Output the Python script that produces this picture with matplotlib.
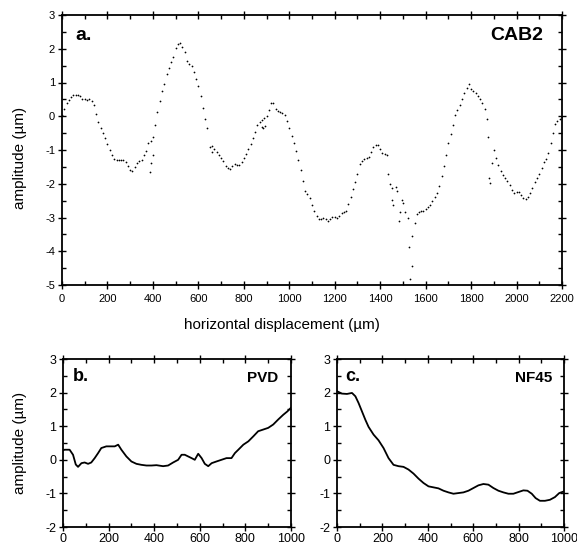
import numpy as np
import matplotlib
matplotlib.use("Agg")
import matplotlib.pyplot as plt
from matplotlib.ticker import MultipleLocator

plt.rcParams["font.family"] = ["Liberation Sans", "DejaVu Sans"]
plt.rcParams["axes.unicode_minus"] = False

# ---- CAB2 profile (sampled every 10 um, in four runs) ----
cab2_x1 = np.arange(0, 641, 10)
cab2_y1 = [0.05, 0.22, 0.39, 0.48, 0.57, 0.62, 0.63, 0.62, 0.61, 0.52,
           0.50, 0.49, 0.50, 0.44, 0.33, 0.06, -0.18, -0.36, -0.50, -0.64,
           -0.82, -1.00, -1.15, -1.28, -1.30, -1.29, -1.30, -1.30, -1.37, -1.48,
           -1.60, -1.62, -1.50, -1.38, -1.32, -1.30, -1.15, -1.02, -0.80, -0.72,
           -0.60, -0.25, 0.12, 0.45, 0.75, 0.97, 1.24, 1.44, 1.60, 1.76,
           2.02, 2.15, 2.17, 2.06, 1.90, 1.65, 1.55, 1.50, 1.32, 1.10,
           0.90, 0.60, 0.24, -0.08, -0.35]
cab2_x2 = np.arange(650, 1431, 10)
cab2_y2 = [-0.92, -0.88, -0.96, -1.06, -1.15, -1.24, -1.33, -1.47, -1.53, -1.55,
           -1.46, -1.40, -1.43, -1.45, -1.36, -1.24, -1.12, -0.98, -0.82, -0.63,
           -0.46, -0.25, -0.18, -0.12, -0.05, 0.02, 0.20, 0.38, 0.40, 0.22,
           0.15, 0.12, 0.10, 0.04, -0.14, -0.35, -0.58, -0.80, -1.02, -1.30,
           -1.58, -1.92, -2.20, -2.30, -2.42, -2.62, -2.82, -2.95, -3.05, -3.05,
           -3.00, -3.04, -3.09, -3.04, -2.98, -2.99, -3.02, -2.97, -2.88, -2.85,
           -2.80, -2.60, -2.40, -2.17, -1.95, -1.72, -1.42, -1.32, -1.26, -1.25,
           -1.22, -1.06, -0.92, -0.84, -0.85, -0.96, -1.08, -1.12, -1.15]
cab2_x3 = np.arange(1560, 1871, 10)
cab2_y3 = [-2.90, -2.84, -2.82, -2.80, -2.76, -2.70, -2.62, -2.50, -2.39, -2.27,
           -2.08, -1.78, -1.46, -1.14, -0.80, -0.54, -0.26, 0.04, 0.20, 0.34,
           0.50, 0.68, 0.84, 0.95, 0.80, 0.76, 0.70, 0.60, 0.50, 0.40,
           0.22, -0.08]
cab2_x4 = np.arange(1900, 2201, 10)
cab2_y4 = [-1.00, -1.25, -1.45, -1.62, -1.74, -1.82, -1.92, -2.03, -2.18, -2.28,
           -2.25, -2.24, -2.32, -2.42, -2.45, -2.40, -2.28, -2.12, -1.95, -1.84,
           -1.72, -1.52, -1.35, -1.26, -1.08, -0.78, -0.50, -0.24, -0.14, -0.08,
           -0.02]
# stray CAB2 readings
cab2_sx = [387, 392, 399, 659, 878, 886, 891, 1433, 1443, 1450, 1453, 1458,
           1468, 1473, 1483, 1487, 1495, 1502, 1509, 1524, 1527, 1533, 1539,
           1541, 1553, 1876, 1880, 1883, 1891]
cab2_sy = [-1.64, -1.39, -1.15, -1.05, -0.32, -0.36, -0.28, -1.71, -2.01, -2.14,
           -2.48, -2.63, -2.09, -2.20, -3.09, -2.83, -2.48, -2.58, -2.83, -3.00,
           -3.88, -4.83, -4.44, -3.55, -3.17, -0.62, -1.84, -1.99, -1.39]

# ---- PVD profile ----
pvd_x = [0, 7, 29, 44, 56, 66, 81, 95, 110, 124, 139, 154, 168, 190, 212, 227,
         242, 256, 278, 300, 322, 344, 366, 388, 410, 439, 461, 483, 505, 520,
         534, 549, 564, 578, 593, 608, 622, 637, 652, 673, 695, 717, 739, 754,
         769, 791, 813, 835, 856, 878, 900, 922, 944, 966, 984, 1000]
pvd_y = [0.28, 0.30, 0.30, 0.15, -0.14, -0.21, -0.10, -0.08, -0.12, -0.08,
         0.05, 0.20, 0.35, 0.40, 0.40, 0.40, 0.45, 0.30, 0.10, -0.05,
         -0.12, -0.15, -0.17, -0.17, -0.16, -0.19, -0.17, -0.08, 0.00, 0.15,
         0.15, 0.10, 0.05, 0.00, 0.18, 0.05, -0.12, -0.19, -0.10, -0.05,
         0.00, 0.05, 0.05, 0.20, 0.30, 0.45, 0.55, 0.70, 0.85, 0.90,
         0.95, 1.05, 1.20, 1.34, 1.44, 1.55]

# ---- NF45 profile ----
nf45_x = [0, 22, 44, 66, 81, 95, 110, 125, 139, 161, 183, 205, 227, 249, 271,
          293, 315, 337, 359, 381, 403, 425, 447, 469, 491, 513, 535, 557, 579,
          601, 623, 645, 667, 689, 711, 733, 755, 777, 799, 821, 839, 858, 875,
          894, 916, 938, 960, 979, 1000]
nf45_y = [2.04, 1.97, 1.96, 1.99, 1.89, 1.69, 1.44, 1.19, 0.98, 0.75,
          0.58, 0.35, 0.05, -0.15, -0.19, -0.21, -0.29, -0.41, -0.56, -0.69,
          -0.79, -0.82, -0.85, -0.92, -0.97, -1.01, -0.99, -0.97, -0.92, -0.84,
          -0.76, -0.72, -0.74, -0.84, -0.92, -0.97, -1.01, -1.01, -0.96, -0.91,
          -0.92, -1.01, -1.14, -1.22, -1.22, -1.19, -1.11, -0.99, -0.94]

W, H = 577, 548
fig = plt.figure(figsize=(W / 100, H / 100), dpi=100)


def frame(ax, xmax, ymin, ymax, labelsize, xpad):
    ax.set_xlim(0, xmax)
    ax.set_ylim(ymin, ymax)
    ax.xaxis.set_major_locator(MultipleLocator(200))
    ax.xaxis.set_minor_locator(MultipleLocator(100))
    ax.yaxis.set_major_locator(MultipleLocator(1))
    ax.yaxis.set_minor_locator(MultipleLocator(0.5))
    ax.tick_params(which="both", top=True, right=True, width=1.0, color="black")
    ax.tick_params(which="major", direction="inout", length=6, labelsize=labelsize)
    ax.tick_params(which="minor", direction="in", length=3)
    ax.tick_params(axis="y", which="major", pad=2)
    ax.tick_params(axis="x", which="major", pad=xpad)
    for s in ax.spines.values():
        s.set_linewidth(1.3)


ax_a = fig.add_axes([62 / W, 1 - 285 / H, 500 / W, 270 / H])
ax_b = fig.add_axes([63 / W, 1 - 527 / H, 228 / W, 168 / H])
ax_c = fig.add_axes([337 / W, 1 - 527 / H, 227 / W, 168 / H])

frame(ax_a, 2200, -5, 3, 8, 3.5)
frame(ax_b, 1000, -2, 3, 9, 1.5)
frame(ax_c, 1000, -2, 3, 9, 1.5)

dot = dict(s=1.6, c="black", marker="o", linewidths=0)
for xs, ys in [(cab2_x1, cab2_y1), (cab2_x2, cab2_y2),
               (cab2_x3, cab2_y3), (cab2_x4, cab2_y4), (cab2_sx, cab2_sy)]:
    ax_a.scatter(xs, ys, **dot)

ax_b.plot(pvd_x, pvd_y, color="black", lw=1.3)
ax_c.plot(nf45_x, nf45_y, color="black", lw=1.3)

bold = dict(fontweight="bold", va="top")
ax_a.text(0.026, 0.955, "a.", transform=ax_a.transAxes, fontsize=14, ha="left", **bold)
ax_a.text(0.962, 0.955, "CAB2", transform=ax_a.transAxes, fontsize=14, ha="right", **bold)
ax_b.text(0.044, 0.945, "b.", transform=ax_b.transAxes, fontsize=13, ha="left", **bold)
ax_b.text(0.943, 0.93, "PVD", transform=ax_b.transAxes, fontsize=11, ha="right", **bold)
ax_c.text(0.035, 0.945, "c.", transform=ax_c.transAxes, fontsize=13, ha="left", **bold)
ax_c.text(0.95, 0.93, "NF45", transform=ax_c.transAxes, fontsize=11, ha="right", **bold)

fig.text(282 / W, 1 - 325 / H, "horizontal displacement (\u00b5m)",
         ha="center", va="center", fontsize=11)
fig.text(20 / W, 1 - 158 / H, "amplitude (\u00b5m)", rotation=90,
         ha="center", va="center", fontsize=11)
fig.text(20 / W, 1 - 443 / H, "amplitude (\u00b5m)", rotation=90,
         ha="center", va="center", fontsize=11)

fig.savefig("out.png", dpi=100)
